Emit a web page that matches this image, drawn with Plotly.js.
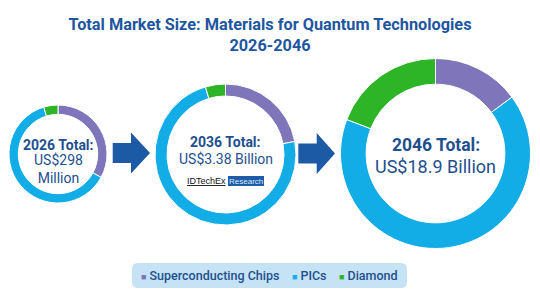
<!DOCTYPE html>
<html>
<head>
<meta charset="utf-8">
<script src="https://cdn.plot.ly/plotly-3.0.1.min.js"></script>
<style>html,body{margin:0;padding:0;background:#fff;}#chart{width:540px;height:304px;}</style>
</head>
<body>
<div id="chart"></div>
<script>
// ---- data ----
const segments = ["Superconducting Chips", "PICs", "Diamond"];
const segmentColors = ["#7F75BA", "#12ACE6", "#2EB527"];
const years = ["2026", "2036", "2046"];
const values2026 = [98, 186, 14];        // US$ million
const values2036 = [745, 2480, 155];     // US$ million
const values2046 = [2815, 12460, 3625];  // US$ million
const totalLabels = ["US$298<br>Million", "US$3.38 Billion", "US$18.9 Billion"];
const titleText = "Total Market Size: Materials for Quantum Technologies<br>2026-2046";

// ---- layout helpers (pixel -> paper) ----
const W = 540, H = 304;
const px = x => x / W;
const py = y => 1 - y / H;
function dom(cx, cy, r) {
  return { x: [px(cx - r), px(cx + r)], y: [py(cy + r), py(cy - r)] };
}
const darkBlue = "#1F4F8E";
const arrowBlue = "#1D5AA5";

const pies = [
  { vals: values2026, d: dom(58, 154, 49), hole: 0.81 },
  { vals: values2036, d: dom(225.5, 154.5, 70.5), hole: 0.83 },
  { vals: values2046, d: dom(435.5, 153.5, 95), hole: 0.73 }
];

const data = pies.map((p, i) => ({
  type: "pie",
  labels: segments,
  values: p.vals,
  name: years[i],
  hole: p.hole,
  sort: false,
  direction: "clockwise",
  rotation: 0,
  textinfo: "none",
  hoverinfo: "label+value+percent",
  marker: { colors: segmentColors, line: { color: "#ffffff", width: 1 } },
  domain: p.d,
  showlegend: false
}));

function arrowPath(x0, xs, xt, yc) {
  const sh = 10, hh = 20.5;
  const pts = [[x0, yc - sh], [xs, yc - sh], [xs, yc - hh], [xt, yc], [xs, yc + hh], [xs, yc + sh], [x0, yc + sh]];
  return "M" + pts.map(p => px(p[0]) + "," + py(p[1])).join("L") + "Z";
}
function roundRect(x0, y0, x1, y1, r) {
  const P = (x, y) => px(x) + "," + py(y);
  return "M" + P(x0 + r, y0) + "L" + P(x1 - r, y0) + "Q" + P(x1, y0) + " " + P(x1, y0 + r) +
    "L" + P(x1, y1 - r) + "Q" + P(x1, y1) + " " + P(x1 - r, y1) +
    "L" + P(x0 + r, y1) + "Q" + P(x0, y1) + " " + P(x0, y1 - r) +
    "L" + P(x0, y0 + r) + "Q" + P(x0, y0) + " " + P(x0 + r, y0) + "Z";
}

const shapes = [
  { type: "path", xref: "paper", yref: "paper", path: arrowPath(112.7, 131, 150, 153), fillcolor: arrowBlue, line: { width: 0 } },
  { type: "path", xref: "paper", yref: "paper", path: arrowPath(298.3, 316.7, 335, 153.5), fillcolor: arrowBlue, line: { width: 0 } },
  { type: "path", xref: "paper", yref: "paper", path: roundRect(132, 263, 407, 288, 6), fillcolor: "#C6E3F5", line: { width: 0 }, layer: "below" },
  { type: "rect", xref: "paper", yref: "paper", x0: px(228), x1: px(264), y0: py(186), y1: py(176), fillcolor: "#1E5BA8", line: { width: 0 } }
];

function ann(x, y, text, size, bold, extra) {
  return Object.assign({
    xref: "paper", yref: "paper", x: px(x), y: py(y), text: bold ? "<b>" + text + "</b>" : text,
    showarrow: false, xanchor: "center", yanchor: "middle",
    font: { family: "Roboto, 'Open Sans', sans-serif", size: size, color: darkBlue }
  }, extra || {});
}

const legendText = segments.map((s, i) =>
  '<span style="color:' + segmentColors[i] + ';font-size:9px">\u25A0</span> ' + s
).join("\u00a0\u00a0\u00a0\u00a0");

const annotations = [
  ann(58, 145, years[0] + " Total:", 14, true),
  ann(58, 169, totalLabels[0], 14, false),
  ann(225.5, 142, years[1] + " Total:", 14, true),
  ann(225.5, 159, totalLabels[1], 14, false),
  ann(435.5, 145, years[2] + " Total:", 17.5, true),
  ann(435.5, 166, totalLabels[2], 18, false),
  ann(206.5, 180.5, "<u>IDTechEx</u>", 9, false, { font: { family: "Arial, 'Liberation Sans', sans-serif", size: 9, color: "#111111" } }),
  ann(246, 181, "Research", 8, false, { font: { family: "Arial, 'Liberation Sans', sans-serif", size: 8, color: "#DCE8F6" } }),
  ann(269.5, 275.5, legendText, 12.5, false, { font: { family: "Roboto, 'Open Sans', sans-serif", size: 12.5, color: darkBlue, weight: 500 } })
];

const layout = {
  width: W, height: H,
  margin: { l: 0, r: 0, t: 0, b: 0 },
  paper_bgcolor: "#ffffff",
  title: {
    text: titleText,
    x: 0.5, xanchor: "center", y: py(29.5), yanchor: "middle",
    font: { family: "Roboto, 'Open Sans', sans-serif", size: 16.3, color: "#1E56A0", weight: "bold" }
  },
  showlegend: false,
  shapes: shapes,
  annotations: annotations
};

Plotly.newPlot("chart", data, layout, { displayModeBar: false, staticPlot: true });
</script>
</body>
</html>
